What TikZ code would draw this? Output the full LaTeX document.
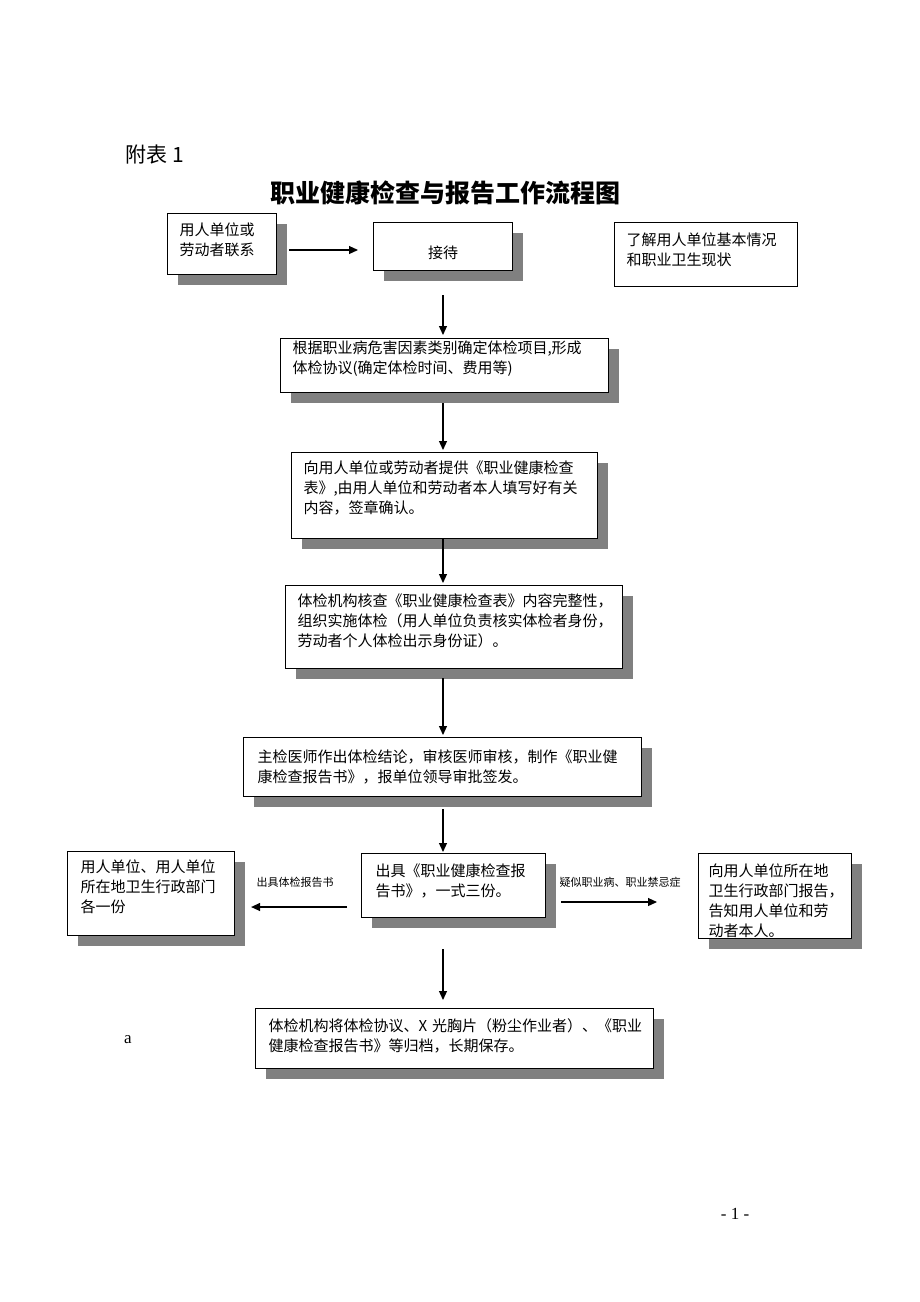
\documentclass[tikz,border=0pt]{standalone}
\usepackage{fontspec}
\setmainfont{Noto Sans CJK SC}
\newfontfamily\serifrm{Liberation Serif}
\usetikzlibrary{arrows.meta,shadows}

\tikzset{
  box/.style={draw, line width=1.1pt, fill=white, anchor=north west,
    inner xsep=12pt, inner ysep=0pt, align=left,
    font=\fontsize{15}{20}\selectfont},
  shadebox/.style={box, drop shadow={shadow xshift=10pt, shadow yshift=-10pt,
    fill=black!50, opacity=1}},
  arr/.style={line width=1.2pt, -{Triangle[length=9pt,width=8pt]}},
  lbl/.style={font=\fontsize{11}{13}\selectfont}
}

\begin{document}
\begin{tikzpicture}[x=1pt,y=-1pt]
\useasboundingbox (0,0) rectangle (920,1302);

% page heading
\node[font=\fontsize{21}{24}\selectfont] (fubiao) at (155,155) {附表 1};
\node[font=\fontsize{25}{30}\selectfont\bfseries] (title) at (445,193) {职业健康检查与报告工作流程图};

% top row
\node[shadebox, text width=85pt, text height=22pt, text depth=39pt] (contact) at (167,213)
  {用人单位或\\劳动者联系};
\node[shadebox, align=center, text width=115pt, text height=36pt, text depth=12pt] (reception) at (373,222)
  {接待};
\node[box, text width=159pt, text height=23pt, text depth=41pt] (survey) at (614,222)
  {了解用人单位基本情况\\和职业卫生现状};

% main column
\node[shadebox, text width=304pt, text height=15pt, text depth=39pt] (items) at (280,338)
  {根据职业病危害因素类别确定体检项目,形成\\体检协议(确定体检时间、费用等)};
\node[shadebox, text width=282pt, text height=21pt, text depth=65pt] (form) at (291,452)
  {向用人单位或劳动者提供《职业健康检查\\表》,由用人单位和劳动者本人填写好有关\\内容，签章确认。};
\node[shadebox, text width=313pt, text height=21pt, text depth=62pt] (exam) at (285,585)
  {体检机构核查《职业健康检查表》内容完整性，\\组织实施体检（用人单位负责核实体检者身份，\\劳动者个人体检出示身份证）。};
\node[shadebox, inner xsep=14pt, text width=370pt, text height=25pt, text depth=34pt] (verdict) at (243,737)
  {主检医师作出体检结论，审核医师审核，制作《职业健\\康检查报告书》，报单位领导审批签发。};
\node[shadebox, inner xsep=14pt, text width=156pt, text height=23pt, text depth=41pt] (report) at (361,853)
  {出具《职业健康检查报\\告书》，一式三份。};
\node[shadebox, inner xsep=13pt, text width=141pt, text height=21pt, text depth=63pt] (copies) at (67,851)
  {用人单位、用人单位\\所在地卫生行政部门\\各一份};
\node[shadebox, inner xsep=10pt, text width=133pt, text height=23pt, text depth=62pt] (notify) at (698,853)
  {向用人单位所在地\\卫生行政部门报告，\\告知用人单位和劳\\动者本人。};
\node[shadebox, inner xsep=13pt, text width=372pt, text height=23pt, text depth=37pt] (archive) at (255,1008)
  {体检机构将体检协议、X~光胸片（粉尘作业者）、《职业\\健康检查报告书》等归档，长期保存。};

\node[font=\serifrm\fontsize{17}{20}\selectfont] (mark) at (128,1040) {a};
\node[font=\serifrm\fontsize{17}{20}\selectfont] (pageno) at (735,1214) {- 1 -};

% arrows
\coordinate (axis) at (443,0);
\coordinate (toprow) at (0,250);
\coordinate (leftrow) at (0,907);
\coordinate (rightrow) at (0,902);

\draw[arr, shorten <=12pt, shorten >=15pt] (contact.east |- toprow) -- (reception.west |- toprow);
\draw[arr, shorten <=24pt, shorten >=3pt] (reception.south -| axis) -- (items.north -| axis);
\draw[arr, shorten <=10pt, shorten >=2pt] (items.south -| axis) -- (form.north -| axis);
\draw[arr, shorten >=2pt] (form.south -| axis) -- (exam.north -| axis);
\draw[arr, shorten <=9pt, shorten >=2pt] (exam.south -| axis) -- (verdict.north -| axis);
\draw[arr, shorten <=12pt, shorten >=1pt] (verdict.south -| axis) -- (report.north -| axis);
\draw[arr, shorten <=31pt, shorten >=8pt] (report.south -| axis) -- (archive.north -| axis);
\draw[arr, shorten <=14pt, shorten >=16pt] (report.west |- leftrow) -- (copies.east |- leftrow);
\draw[arr, shorten <=15pt, shorten >=41pt] (report.east |- rightrow) -- (notify.west |- rightrow);

\node[lbl] (outlbl) at (295,882) {出具体检报告书};
\node[lbl] (suslbl) at (620,882) {疑似职业病、职业禁忌症};
\end{tikzpicture}
\end{document}
